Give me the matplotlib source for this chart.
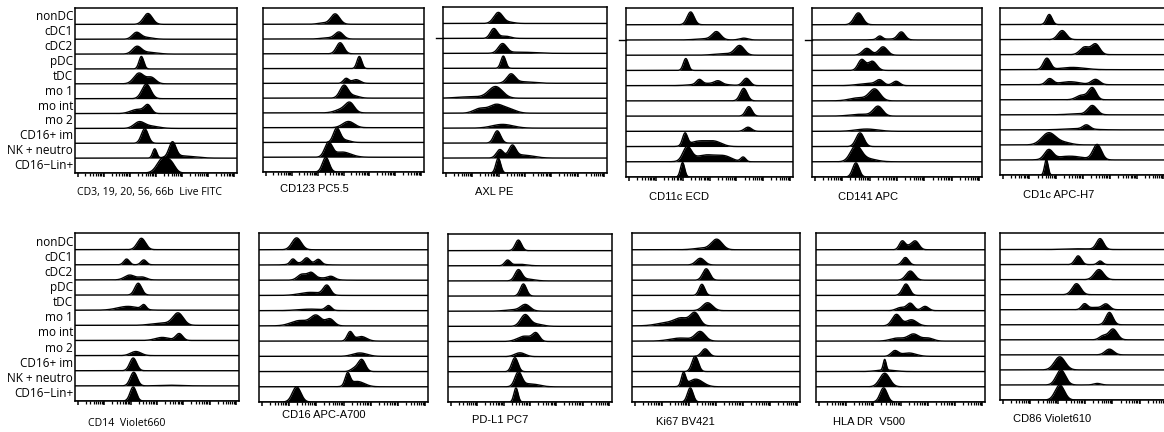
import numpy as np
import matplotlib
matplotlib.use("Agg")
from matplotlib import pyplot as plt

# row (population) labels, top to bottom
rows = ["nonDC", "cDC1", "cDC2", "pDC", "tDC", "mo 1", "mo int", "mo 2",
        "CD16+ im", "NK + neutro", "CD16\u2212Lin+"]

# marker names under each panel
markers_top = ["CD3, 19, 20, 56, 66b  Live FITC", "CD123 PC5.5", "AXL PE",
               "CD11c ECD", "CD141 APC", "CD1c APC-H7"]
markers_bottom = ["CD14  Violet660", "CD16 APC-A700", "PD-L1 PC7",
                  "Ki67 BV421", "HLA DR  V500", "CD86 Violet610"]

# peaks: (centre in decades, spread, height in row units)
cd3_peaks = [
    [(2.69, .13, .73)],
    [(2.25, .12, .42), (2.6, .2, .12)],
    [(2.27, .13, .48), (2.7, .25, .12)],
    [(2.44, .07, .84)],
    [(2.35, .15, .72), (2.82, .13, .42)],
    [(2.63, .13, .98)],
    [(2.69, .1, .52), (2.3, .2, .28)],
    [(2.35, .15, .38), (2.75, .25, .16)],
    [(2.57, .1, .98)],
    [(2.95, .06, .62), (3.63, .1, 1.0), (4.0, .35, .15)],
    [(3.27, .17, 1.0), (3.6, .12, .45)],
]
cd123_peaks = [
    [(2.68, .13, .7), (2.2, .15, .08)],
    [(2.83, .12, .46), (2.4, .2, .08)],
    [(2.87, .11, .75)],
    [(3.61, .07, .82)],
    [(3.1, .08, .33), (3.48, .12, .25)],
    [(3.02, .12, .86), (3.4, .15, .15)],
    [(3.25, .13, .6), (2.95, .2, .25)],
    [(3.19, .17, .42)],
    [(2.74, .1, .95), (3.05, .15, .15)],
    [(2.42, .11, .95), (2.95, .25, .35)],
    [(2.32, .1, 1.0)],
]
axl_peaks = [
    [(1.99, .13, .73), (2.4, .15, .08)],
    [(1.82, .1, .65), (2.25, .15, .15)],
    [(2.15, .12, .62), (2.8, .4, .08)],
    [(2.18, .07, .82)],
    [(2.47, .12, .58), (2.9, .3, .1)],
    [(1.89, .2, .76), (1.0, .4, .1)],
    [(1.29, .18, .3), (1.9, .2, .55), (2.4, .2, .25)],
    [(2.15, .3, .25)],
    [(1.95, .1, .82)],
    [(2.05, .1, .55), (2.52, .1, .75), (2.9, .3, .2)],
    [(1.99, .07, 1.0)],
]
cd11c_peaks = [
    [(2.3, .1, .84)],
    [(3.26, .12, .5), (4.27, .12, .12), (2.9, .3, .08)],
    [(4.12, .13, .6), (3.6, .3, .1)],
    [(2.12, .07, .78)],
    [(2.62, .08, .3), (3.32, .1, .2), (4.37, .1, .48), (3.0, .4, .15)],
    [(4.27, .1, .82)],
    [(4.46, .09, .62)],
    [(4.43, .1, .27)],
    [(2.09, .07, .8), (2.6, .25, .35), (3.2, .2, .3)],
    [(2.17, .12, .9), (2.9, .35, .45), (3.6, .2, .25), (4.25, .07, .3)],
    [(2.0, .06, .95)],
]
cd141_peaks = [
    [(1.59, .12, .78)],
    [(2.37, .07, .22), (3.16, .1, .5), (2.7, .3, .06)],
    [(1.9, .12, .45), (2.49, .12, .55)],
    [(1.71, .1, .7), (2.1, .12, .6)],
    [(2.0, .3, .15), (2.37, .1, .3), (2.97, .1, .28)],
    [(2.19, .15, .75), (1.6, .25, .2)],
    [(2.31, .13, .62), (1.7, .3, .12)],
    [(1.89, .3, .15)],
    [(1.65, .11, .9)],
    [(1.5, .15, 1.0), (1.9, .25, .2)],
    [(1.5, .09, .93)],
]
cd1c_peaks = [
    [(1.74, .08, .67)],
    [(2.22, .12, .6)],
    [(3.06, .13, .5), (3.47, .12, .7)],
    [(1.65, .1, .75), (2.6, .35, .15)],
    [(1.75, .1, .38), (2.5, .3, .2), (3.47, .12, .35)],
    [(3.35, .11, .78), (2.95, .15, .3)],
    [(3.35, .13, .6), (2.8, .3, .06)],
    [(3.13, .1, .27), (2.8, .4, .08)],
    [(1.72, .2, .8), (2.3, .2, .15)],
    [(1.72, .12, .62), (2.5, .4, .25), (3.53, .12, 1.0)],
    [(1.63, .05, 1.04)],
]
cd14_peaks = [
    [(2.41, .12, .75)],
    [(1.85, .08, .38), (2.5, .08, .32)],
    [(1.97, .15, .32), (2.45, .12, .18)],
    [(2.29, .1, .78)],
    [(1.9, .3, .25), (2.5, .07, .3)],
    [(3.8, .15, .78), (3.2, .3, .15)],
    [(3.84, .1, .45), (3.2, .2, .2)],
    [(2.2, .15, .27)],
    [(2.1, .1, .84)],
    [(2.12, .1, .9), (3.5, .3, .04)],
    [(2.1, .09, .93)],
]
cd16_peaks = [
    [(1.28, .13, .78)],
    [(1.14, .07, .32), (1.65, .08, .32), (2.08, .08, .3), (1.6, .3, .15)],
    [(1.47, .12, .35), (1.81, .1, .38), (2.55, .1, .18), (2.1, .3, .15)],
    [(2.39, .1, .62), (1.8, .3, .2)],
    [(2.45, .08, .3), (1.8, .35, .1)],
    [(2.0, .15, .65), (1.4, .25, .35), (2.5, .12, .45)],
    [(3.24, .08, .6), (3.65, .15, .3)],
    [(3.6, .2, .22)],
    [(3.67, .1, .78), (3.4, .1, .2)],
    [(3.15, .07, .8), (3.5, .2, .35)],
    [(1.28, .12, 1.0)],
]
pdl1_peaks = [
    [(2.56, .09, .7)],
    [(2.15, .08, .36), (2.6, .2, .1)],
    [(2.56, .1, .7), (2.9, .2, .12)],
    [(2.75, .09, .8)],
    [(2.83, .13, .38), (2.5, .3, .1)],
    [(2.81, .13, .73), (3.2, .2, .15)],
    [(3.23, .1, .5), (2.8, .2, .35)],
    [(2.62, .15, .25)],
    [(2.43, .09, .93)],
    [(2.56, .1, .93), (3.0, .25, .2)],
    [(2.47, .06, .93)],
]
ki67_peaks = [
    [(3.03, .15, .67), (2.5, .25, .1)],
    [(2.42, .12, .44)],
    [(2.64, .1, .75)],
    [(2.48, .08, .73)],
    [(2.69, .14, .52)],
    [(2.23, .13, .8), (1.75, .2, .45), (1.2, .3, .2)],
    [(2.42, .14, .6), (1.7, .3, .2)],
    [(2.6, .1, .49)],
    [(2.23, .09, 1.0)],
    [(1.8, .06, .85), (2.25, .2, .5)],
    [(2.05, .08, .93)],
]
hladr_peaks = [
    [(3.06, .08, .55), (3.55, .1, .55), (3.3, .1, .2)],
    [(3.18, .09, .49)],
    [(3.36, .12, .6)],
    [(3.2, .1, .75)],
    [(3.36, .1, .48), (3.9, .1, .28), (3.0, .12, .2)],
    [(2.85, .12, .75), (3.4, .15, .4)],
    [(3.48, .15, .45), (2.9, .2, .2), (4.0, .15, .2)],
    [(2.79, .1, .35), (3.3, .2, .22)],
    [(2.42, .04, .7), (2.45, .25, .1)],
    [(2.42, .14, .89)],
    [(2.38, .1, .93)],
]
cd86_peaks = [
    [(3.55, .1, .71), (2.8, .4, .05)],
    [(2.75, .09, .58), (3.55, .07, .24)],
    [(3.51, .13, .67)],
    [(2.69, .12, .73)],
    [(2.98, .08, .35), (3.77, .1, .35), (3.35, .2, .15)],
    [(3.89, .1, .82)],
    [(4.02, .12, .72), (3.65, .1, .25)],
    [(3.89, .12, .38)],
    [(2.08, .15, .87)],
    [(2.12, .13, 1.0), (3.45, .1, .1)],
    [(2.08, .13, 1.0)],
]

W, H = 1164, 432
fig = plt.figure(figsize=(W / 100, H / 100), dpi=100)

# pixel boxes (left, top, right, bottom) of each panel
boxes_top = [(75, 8, 237, 173), (263, 8, 424, 172), (443, 7, 607, 173),
             (626, 8, 793, 177), (812, 8, 982, 177), (1000, 8, 1166, 175)]
boxes_bottom = [(75, 233, 239, 401), (259, 233, 428, 402), (448, 234, 612, 402),
                (632, 233, 800, 402), (816, 233, 985, 402), (1000, 233, 1170, 400)]
label_pos_top = [(77, 192), (280, 189), (475, 192), (649, 197), (838, 197), (1023, 195)]
label_pos_bottom = [(88, 423), (282, 415), (472, 420), (656, 422), (833, 422), (1013, 419)]

top_data = [cd3_peaks, cd123_peaks, axl_peaks, cd11c_peaks, cd141_peaks, cd1c_peaks]
bottom_data = [cd14_peaks, cd16_peaks, pdl1_peaks, ki67_peaks, hladr_peaks, cd86_peaks]

xs = np.linspace(-0.1, 6.1, 800)
nrow = len(rows)
major = np.arange(0, 7)
minor = np.array([d + np.log10(k) for d in range(0, 6) for k in range(2, 10)])
smooth = 1.3  # histograms look smoother than the read-off spreads


def draw_panel(box, peaks, label, lpos, first, dash):
    l, t, r, b = box
    ax = fig.add_axes([l / W, 1 - b / H, (r - l) / W, (b - t) / H])
    for i, comps in enumerate(peaks):
        base = nrow - 1 - i
        y = np.zeros_like(xs)
        for c, s, h in comps:
            y += h * np.exp(-0.5 * ((xs - c) / (s * smooth)) ** 2)
        ax.fill_between(xs, base, base + y, color="black", lw=0)
        ax.plot(xs, base + y, color="black", lw=1.0)
        if first:
            ax.text(-0.012, base + 0.5, rows[i], transform=ax.get_yaxis_transform(),
                    ha="right", va="center", fontsize=8.5, family="Open Sans")
    if dash:
        ax.plot([-0.04, 0], [nrow - 2, nrow - 2], color="black", lw=1.0,
                transform=ax.get_yaxis_transform(), clip_on=False)
    ax.set_xlim(-0.1, 6.1)
    ax.set_ylim(0, nrow + 0.1)
    ax.set_yticks([])
    ax.set_xticks(major)
    ax.set_xticks(minor, minor=True)
    ax.set_xticklabels([])
    ax.tick_params(axis="x", which="major", length=3.2, width=1.1, direction="out")
    ax.tick_params(axis="x", which="minor", length=1.8, width=0.9, direction="out")
    for sp in ax.spines.values():
        sp.set_linewidth(1.1)
    fam = "Open Sans" if first else "Liberation Sans"
    fig.text(lpos[0] / W, 1 - lpos[1] / H, label, ha="left", va="center",
             fontsize=7.6 if first else 8, family=fam)


for j in range(6):
    draw_panel(boxes_top[j], top_data[j], markers_top[j], label_pos_top[j],
               j == 0, j in (2, 3, 4))
    draw_panel(boxes_bottom[j], bottom_data[j], markers_bottom[j],
               label_pos_bottom[j], j == 0, False)

fig.savefig("out.png", dpi=100)
